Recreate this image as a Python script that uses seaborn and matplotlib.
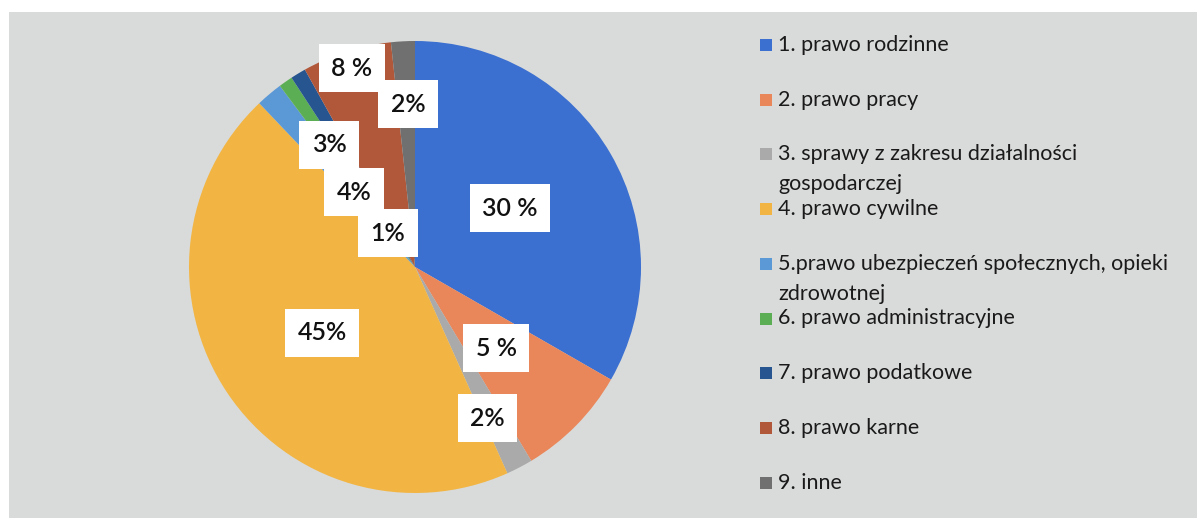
import matplotlib
matplotlib.use("Agg")
import matplotlib.pyplot as plt
import seaborn as sns
from matplotlib.patches import Rectangle

# shares; the printed labels are the ones from the scan
categories = [
    "1. prawo rodzinne",
    "2. prawo pracy",
    "3. sprawy z zakresu działalności\ngospodarczej",
    "4. prawo cywilne",
    "5.prawo ubezpieczeń społecznych, opieki\nzdrowotnej",
    "6. prawo administracyjne",
    "7. prawo podatkowe",
    "8. prawo karne",
    "9. inne",
]
shares = [33.3, 8.1, 1.9, 44.6, 1.9, 1.0, 1.1, 6.4, 1.7]
label_texts = ["30 %", "5 %", "2%", "45%", "3%", "4%", "1%", "8 %", "2%"]

colors = sns.color_palette([
    "#3b6fd0", "#e9865a", "#aaaaaa", "#f2b544", "#5b98d6",
    "#5cae55", "#27558f", "#b1583a", "#707070",
])

# hand placed label boxes (pie units, centre = 0,0)
label_xy = [(0.42, 0.26), (0.36, -0.36), (0.32, -0.67), (-0.41, -0.29),
            (-0.38, 0.54), (-0.27, 0.33), (-0.12, 0.15), (-0.28, 0.88),
            (-0.03, 0.72)]

sns.set_style("white")
plt.rcParams["font.family"] = ["Lato", "DejaVu Sans"]

W, H = 1197, 518
fig = plt.figure(figsize=(W / 100, H / 100), dpi=100)
fig.patch.set_facecolor("white")

# scanned grey page background
bg = fig.add_axes([0, 0, 1, 1])
bg.set_xlim(0, W)
bg.set_ylim(H, 0)
bg.axis("off")
bg.add_patch(Rectangle((9, 12), W - 9, H - 12, facecolor="#d9dbda", edgecolor="none"))

ax = fig.add_axes([189 / W, 25 / H, 452 / W, 452 / H])
ax.pie(shares, colors=colors, startangle=90, counterclock=False,
       radius=1.0, wedgeprops=dict(linewidth=0))
ax.set_xlim(-1.0, 1.0)
ax.set_ylim(-1.0, 1.0)
ax.set_aspect("equal")
ax.axis("off")

for txt, (lx, ly) in zip(label_texts, label_xy):
    ax.text(lx, ly, txt, ha="center", va="center", fontsize=18, color="#111111",
            fontweight="semibold",
            bbox=dict(boxstyle="square,pad=0.5", facecolor="white", edgecolor="none"))

# legend drawn by hand so wrapped lines sit in the gap like the original
leg = fig.add_axes([0, 0, 1, 1])
leg.set_xlim(0, W)
leg.set_ylim(H, 0)
leg.axis("off")
for i, (name, col) in enumerate(zip(categories, colors)):
    y = 45 + 54.7 * i
    leg.scatter([766], [y], marker="s", s=75, color=col, linewidths=0)
    for j, line in enumerate(name.split("\n")):
        leg.text(778, y + 30 * j, line, ha="left", va="center",
                 fontsize=15.5, color="#1a1a1a")

fig.savefig("out.png", dpi=100, facecolor=fig.get_facecolor())
